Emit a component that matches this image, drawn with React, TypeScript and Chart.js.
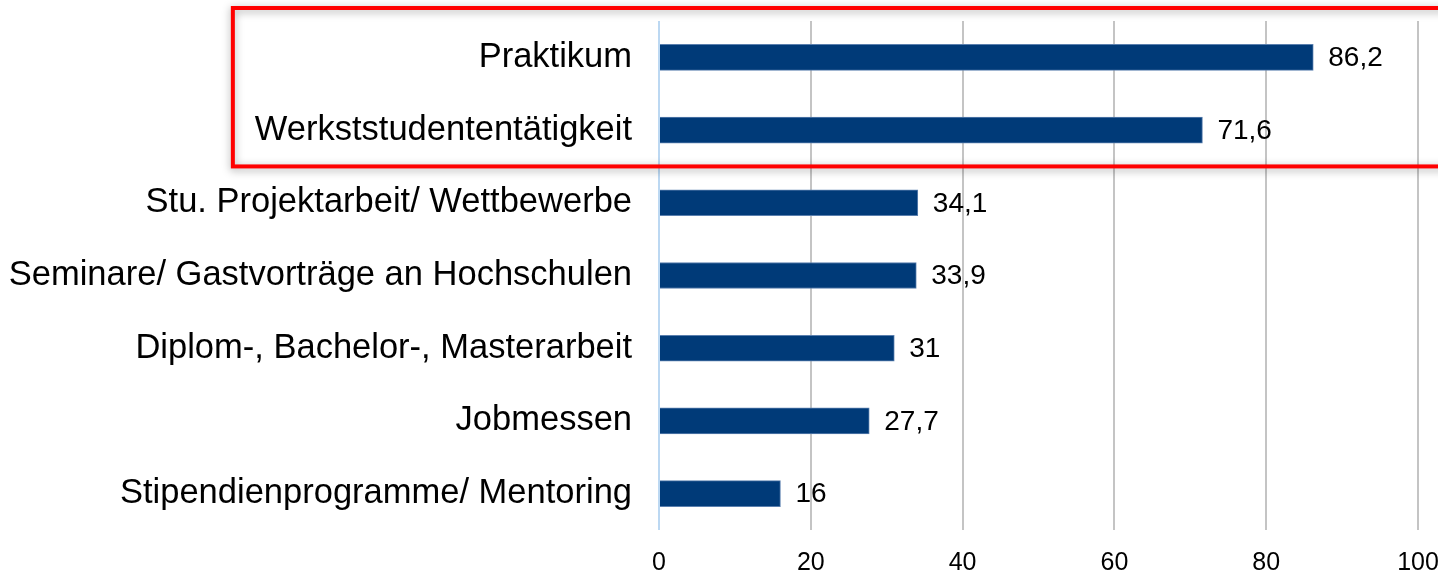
import React, { useEffect, useRef } from "react";
import { Chart, registerables } from "chart.js";

Chart.register(...registerables);

const categories = [
  "Praktikum",
  "Werkststudententätigkeit",
  "Stu. Projektarbeit/ Wettbewerbe",
  "Seminare/ Gastvorträge an Hochschulen",
  "Diplom-, Bachelor-, Masterarbeit",
  "Jobmessen",
  "Stipendienprogramme/ Mentoring",
];
const values = [86.2, 71.6, 34.1, 33.9, 31, 27.7, 16];
const xTicks = [0, 20, 40, 60, 80, 100];
const highlighted = [0, 1];

const FONT = "'Liberation Sans', Arial, sans-serif";
const CAT_SIZE = 34.5;

const fmt = (v: number) => String(v).replace(".", ",");

const valueLabels = {
  id: "valueLabels",
  afterDatasetsDraw(chart: any) {
    const ctx = chart.ctx;
    const meta = chart.getDatasetMeta(0);
    ctx.save();
    ctx.font = `28px ${FONT}`;
    ctx.fillStyle = "#000";
    ctx.textAlign = "left";
    ctx.textBaseline = "middle";
    meta.data.forEach((bar: any, i: number) => {
      ctx.fillText(fmt(values[i]), bar.x + 15, bar.y + 1);
    });
    ctx.restore();
  },
};

const highlightBox = {
  id: "highlightBox",
  afterDraw(chart: any) {
    const ctx = chart.ctx;
    const y = chart.scales.y;
    const area = chart.chartArea;
    ctx.save();
    ctx.font = `${CAT_SIZE}px ${FONT}`;
    const maxW = Math.max(...highlighted.map((i) => ctx.measureText(categories[i]).width));
    const labelRight = area.left - 27;
    const left = labelRight - maxW - 22;
    const top = y.getPixelForValue(highlighted[0] - 0.5) - 13;
    const bottom = y.getPixelForValue(highlighted[highlighted.length - 1] + 0.5);
    ctx.shadowColor = "rgba(0,0,0,0.35)";
    ctx.shadowBlur = 8;
    ctx.shadowOffsetX = 0;
    ctx.shadowOffsetY = 2;
    ctx.strokeStyle = "#ff0000";
    ctx.lineWidth = 4;
    ctx.strokeRect(left, top, chart.width + 20 - left, bottom - top);
    ctx.restore();
  },
};

export default function App() {
  const ref = useRef<HTMLCanvasElement | null>(null);
  useEffect(() => {
    if (!ref.current) return;
    const chart = new Chart(ref.current, {
      type: "bar",
      data: {
        labels: categories,
        datasets: [
          {
            data: values,
            backgroundColor: "#003a78",
            borderColor: "#5a7fae",
            borderWidth: 1,
            barThickness: 26,
          },
        ],
      },
      options: {
        indexAxis: "y",
        animation: false,
        responsive: false,
        layout: { padding: { left: 0, right: 20, top: 21, bottom: 0 } },
        plugins: { legend: { display: false }, tooltip: { enabled: false } },
        scales: {
          x: {
            min: 0,
            max: 100,
            afterBuildTicks: (s: any) => {
              s.ticks = xTicks.map((v) => ({ value: v }));
            },
            afterFit: (s: any) => {
              s.height = 41;
              s.paddingRight = 0;
              s.paddingLeft = 0;
            },
            border: { display: false },
            grid: {
              drawTicks: false,
              lineWidth: 2,
              color: (c: any) => (c.tick && c.tick.value === 0 ? "#bcd8f2" : "#c4c4c4"),
            },
            ticks: {
              color: "#000",
              padding: 18,
              maxRotation: 0,
              font: { family: FONT, size: 25 },
            },
          },
          y: {
            afterFit: (s: any) => {
              s.width = 659;
              s.paddingTop = 0;
              s.paddingBottom = 0;
            },
            border: { display: false },
            grid: { display: false, drawTicks: false },
            ticks: {
              color: "#000",
              padding: 27,
              font: { family: FONT, size: CAT_SIZE },
            },
          },
        },
      },
      plugins: [valueLabels, highlightBox],
    });
    return () => chart.destroy();
  }, []);
  return (
    <div style={{ position: "fixed", left: 0, top: 0, width: 1438, height: 571, background: "#fff" }}>
      <canvas ref={ref} width={1438} height={571} style={{ width: 1438, height: 571, display: "block" }} />
    </div>
  );
}
